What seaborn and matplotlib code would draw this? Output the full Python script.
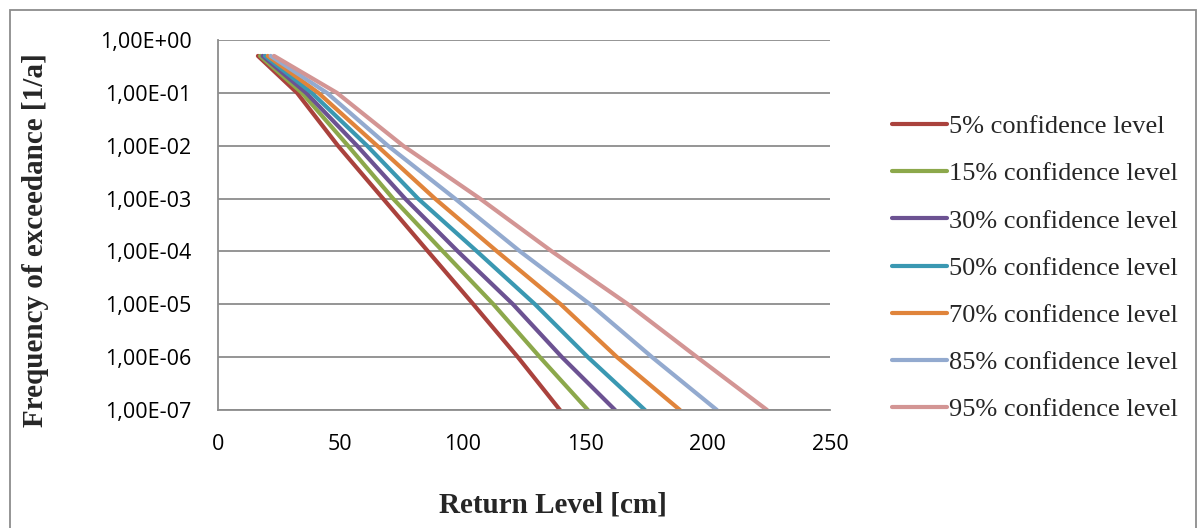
import matplotlib.pyplot as plt
import matplotlib.patches as patches
from matplotlib.ticker import FuncFormatter, FixedLocator, NullLocator
import seaborn as sns
import pandas as pd

# exceedance frequencies [1/a] at which return levels were read
freq = [0.5, 1e-1, 1e-2, 1e-3, 1e-4, 1e-5, 1e-6, 1e-7]

levels = ["5% confidence level", "15% confidence level", "30% confidence level",
          "50% confidence level", "70% confidence level", "85% confidence level",
          "95% confidence level"]

# return levels [cm] per confidence level
rl_05 = [16.3, 32.3, 49.0, 67.4, 85.8, 104.3, 122.5, 139.7]
rl_15 = [17.2, 34.3, 53.1, 71.5, 91.9, 112.5, 131.5, 151.1]
rl_30 = [18.2, 36.0, 56.8, 76.4, 98.0, 120.5, 140.5, 162.2]
rl_50 = [19.2, 38.3, 60.9, 81.7, 105.8, 129.5, 151.1, 174.4]
rl_70 = [20.3, 41.0, 65.0, 88.6, 114.0, 140.0, 163.0, 188.7]
rl_85 = [21.5, 44.5, 69.4, 96.8, 123.4, 152.0, 177.3, 203.8]
rl_95 = [22.9, 48.6, 75.6, 107.0, 136.4, 167.5, 195.7, 224.3]

colors = ["#AA423D", "#8CA84B", "#6C5292", "#3A98B2", "#E0843B", "#93AACF", "#D39594"]

rows = []
for lab, vals in zip(levels, [rl_05, rl_15, rl_30, rl_50, rl_70, rl_85, rl_95]):
    for f, v in zip(freq, vals):
        rows.append({"level": lab, "rl": v, "freq": f})
df = pd.DataFrame(rows)

sns.set_style("white")
fig = plt.figure(figsize=(11.99, 5.28), dpi=100)
ax = fig.add_axes([218/1199, 1 - 410/528, (830-218)/1199, (410-40)/528])

sns.lineplot(data=df, x="rl", y="freq", hue="level", hue_order=levels,
             palette=colors, linewidth=3.0, sort=False, estimator=None, ax=ax)

ax.set_yscale("log")
ax.set_ylim(1e-7, 1)
ax.set_xlim(0, 250)
ax.yaxis.set_major_locator(FixedLocator([10.0**-k for k in range(8)]))
ax.yaxis.set_minor_locator(NullLocator())
ax.yaxis.set_major_formatter(FuncFormatter(lambda v, p: f"{v:.2E}".replace(".", ",")))
ax.set_xticks([0, 50, 100, 150, 200, 250])

ax.grid(axis="y", color="#8c8c8c", linewidth=1.3)
ax.grid(axis="x", visible=False)
for s in ["top", "right"]:
    ax.spines[s].set_visible(False)
for s in ["left", "bottom"]:
    ax.spines[s].set_color("#8c8c8c")
    ax.spines[s].set_linewidth(1.3)
ax.tick_params(axis="both", length=0, labelsize=15.5, colors="black")
ax.tick_params(axis="x", pad=17)
ax.tick_params(axis="y", pad=19)
for t in ax.get_xticklabels() + ax.get_yticklabels():
    t.set_family("Open Sans")

ax.set_xlabel("")
ax.set_ylabel("")
fig.text(553/1199, 1 - 505/528, "Return Level [cm]", ha="center", va="center",
         family="Liberation Serif", fontweight="bold", fontsize=21)
fig.text(36/1199, 1 - 240/528, "Frequency of exceedance [1/a]", ha="center", va="center",
         rotation=90, family="Liberation Serif", fontweight="bold", fontsize=21)

ax.legend(loc="center left", bbox_to_anchor=(892/1199, 1 - 268/528),
          bbox_transform=fig.transFigure, frameon=False,
          prop={"family": "Liberation Serif", "size": 19},
          handlelength=2.1, handletextpad=0.05, labelspacing=0.9, borderaxespad=0,
          borderpad=0)

fig.patches.append(patches.Rectangle((10/1199, -0.1), 1186/1199, 1.1 - 10/528,
                                     transform=fig.transFigure, fill=False,
                                     edgecolor="#8c8c8c", linewidth=1.3))

fig.savefig("out.png", dpi=100)
